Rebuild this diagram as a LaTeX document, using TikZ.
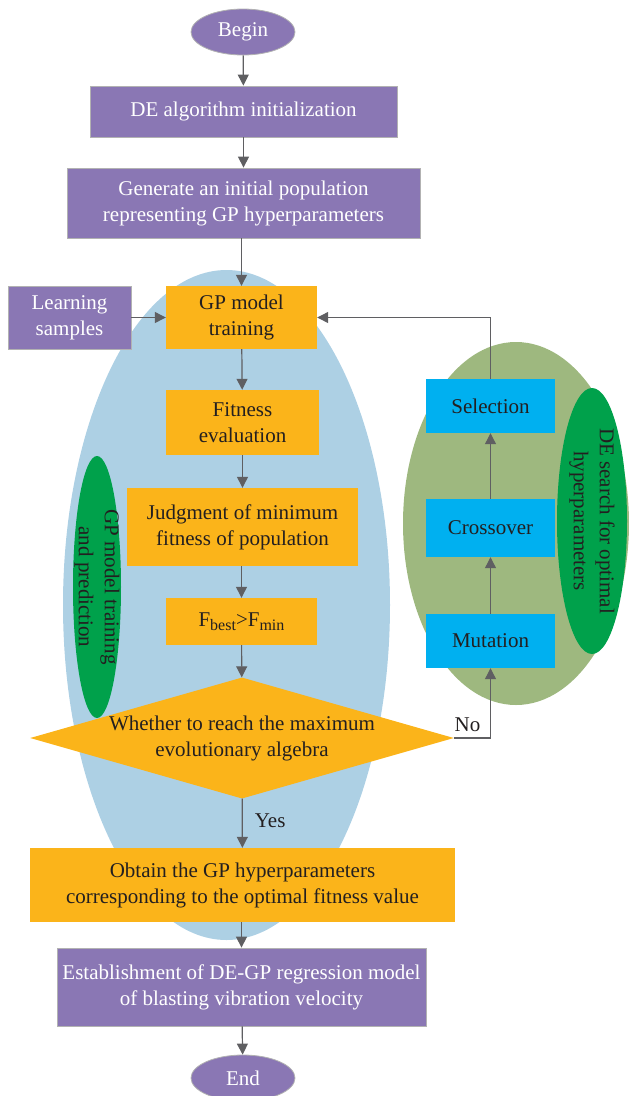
\documentclass[tikz,border=0pt]{standalone}
\usepackage{fontspec}
\setmainfont{Liberation Serif}
\usetikzlibrary{shapes.geometric,arrows.meta}
\definecolor{cpurple}{HTML}{8A77B4}
\definecolor{corange}{HTML}{FBB41A}
\definecolor{cblue}{HTML}{ADD0E4}
\definecolor{colive}{HTML}{9EB87F}
\definecolor{cgreen}{HTML}{00A14B}
\definecolor{ccyan}{HTML}{00B0F0}
\definecolor{ctext}{HTML}{231F20}
\definecolor{carrow}{HTML}{5F5F62}
\tikzset{
  txt/.style={font=\fontsize{21}{26}\selectfont, align=center, inner sep=0pt},
  pbox/.style={txt, fill=cpurple, draw=gray!60, line width=0.8pt, text=white},
  obox/.style={txt, fill=corange, text=ctext},
  cbox/.style={txt, fill=ccyan, text=ctext},
  pell/.style={txt, ellipse, fill=cpurple, draw=gray!60, line width=0.8pt, text=white, minimum width=104, minimum height=46},
  arr/.style={draw=carrow, line width=1.2pt, -{Triangle[length=11pt,width=11pt]}},
  lbl/.style={font=\fontsize{21}{24}\selectfont, text=ctext, inner sep=0pt}
}
\newcommand{\sbx}[1]{\raisebox{-0.4ex}{\fontsize{16}{16}\selectfont #1}}
\begin{document}
\begin{tikzpicture}[x=1pt,y=-1pt]
\useasboundingbox (0,0) rectangle (629,1096);
% background ellipses
\node[ellipse, fill=cblue, minimum width=327, minimum height=670, inner sep=0] (bigell) at (226.5,605) {};
\node[ellipse, fill=colive, minimum width=226, minimum height=363, inner sep=0] (olell) at (516,523.5) {};
\node[ellipse, fill=cgreen, minimum width=48, minimum height=262, inner sep=0] (gpell) at (97,587) {};
\node[txt, text=ctext, rotate=-90] (gptxt) at (97,587) {GP model training\\and prediction};
\node[ellipse, fill=cgreen, minimum width=70, minimum height=266, inner sep=0] (deell) at (592,521) {};
\node[txt, text=ctext, rotate=-90] (detxt) at (592,521) {DE search for optimal\\hyperparameters};

% main nodes
\node[pell] (begin) at (243,32) {Begin};
\node[pbox, minimum width=307, minimum height=51] (init) at (243.5,111.5) {DE algorithm initialization};
\node[pbox, minimum width=353, minimum height=70] (gen) at (243.5,203) {Generate an initial population\\representing GP hyperparameters};
\node[pbox, minimum width=123, minimum height=63] (learn) at (69.5,317.5) {Learning\\samples};
\node[obox, minimum width=151, minimum height=63] (train) at (241.5,317.5) {GP model\\training};
\node[obox, minimum width=153, minimum height=65] (fit) at (242.5,422.5) {Fitness\\evaluation};
\node[obox, minimum width=231, minimum height=78] (judge) at (242.5,527) {Judgment of minimum\\fitness of population};
\node[obox, minimum width=151, minimum height=47] (fbest) at (241.5,621.5) {F\sbx{best}>F\sbx{min}};
\node[txt, diamond, fill=corange, text=ctext, minimum width=420, minimum height=120, aspect=3.5] (dia) at (242,738) {Whether to reach the maximum\\evolutionary algebra};
\node[obox, minimum width=425, minimum height=74] (obtain) at (242.5,885) {Obtain the GP hyperparameters\\corresponding to the optimal fitness value};
\node[pbox, minimum width=369, minimum height=78] (estab) at (241.5,987) {Establishment of DE-GP regression model\\of blasting vibration velocity};
\node[pell] (end) at (243,1078) {End};

\node[cbox, minimum width=129, minimum height=54] (sel) at (490.5,406) {Selection};
\node[cbox, minimum width=129, minimum height=58] (cross) at (490.5,528) {Crossover};
\node[cbox, minimum width=129, minimum height=54] (mut) at (490.5,641) {Mutation};

% connectors
\draw[arr] (begin) -- (init);
\draw[arr] (init) -- (gen);
\draw[arr] (gen.south -| train.north) -- (train);
\draw[arr] (learn) -- (train);
\draw[arr] (train) -- (fit);
\draw[arr] (fit.south -| judge.north) -- (judge);
\draw[arr] (judge.south -| fbest.north) -- (fbest);
\draw[arr] (fbest) -- (dia);
\draw[arr] (dia) -- node[lbl, right=12pt, pos=0.45] (yes) {Yes} (obtain);
\draw[arr] (obtain.south -| estab.north) -- (estab);
\draw[arr] (estab) -- (end);
\draw[arr] (mut) -- (cross);
\draw[arr] (cross) -- (sel);
\coordinate (ncorner) at (mut.south |- dia.east);
\draw[arr] (dia.east) -- (ncorner) -- (mut.south);
\node[lbl, anchor=south east] (no) at ([xshift=-10pt,yshift=6pt]ncorner) {No};
\coordinate (scorner) at (sel.north |- train.east);
\draw[arr] (sel.north) -- (scorner) -- (train.east);
\end{tikzpicture}
\end{document}
